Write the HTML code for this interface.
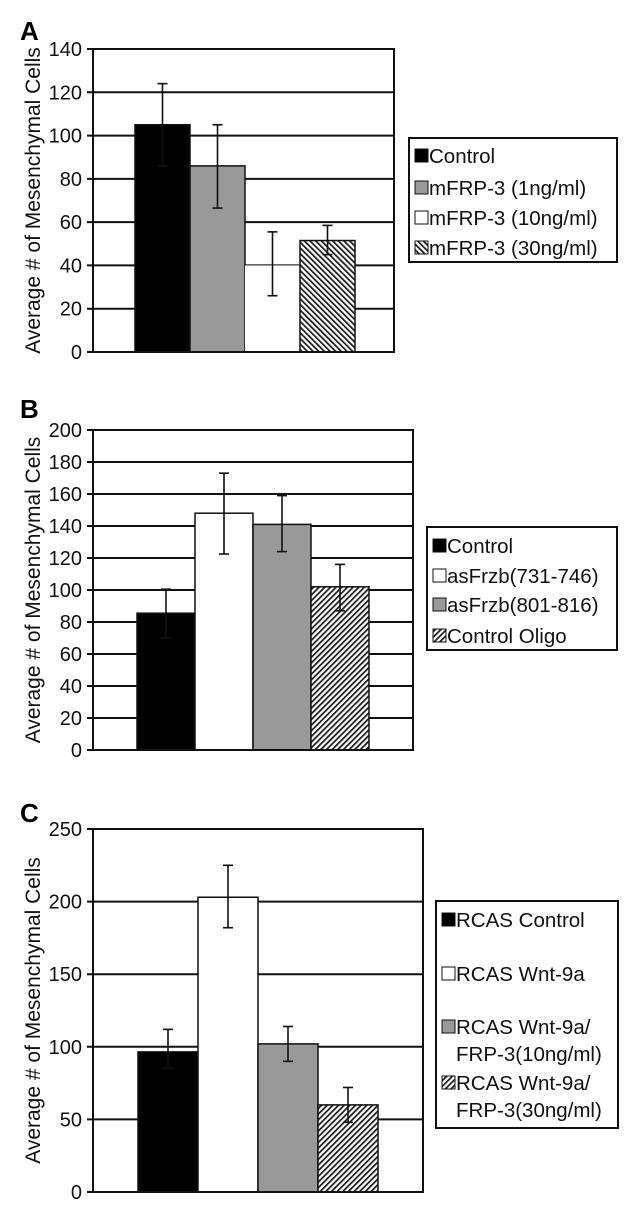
<!DOCTYPE html>
<html><head><meta charset="utf-8">
<style>
html,body{margin:0;padding:0;background:#fff;}
svg{display:block;font-family:"Liberation Sans",Arial,sans-serif;}
</style></head>
<body>
<svg id="fig" width="634" height="1212" viewBox="0 0 634 1212">
<defs>
<pattern id="hatchBack" patternUnits="userSpaceOnUse" width="4" height="4" patternTransform="rotate(-45)">
<rect width="4" height="4" fill="#fff"/><rect width="1.8" height="4" fill="#222"/></pattern>
<pattern id="hatchFwd" patternUnits="userSpaceOnUse" width="4" height="4" patternTransform="rotate(45)">
<rect width="4" height="4" fill="#fff"/><rect width="1.8" height="4" fill="#222"/></pattern>
</defs>
</svg>
<script>
// Panel A
const catsA = ["Control","mFRP-3 (1ng/ml)","mFRP-3 (10ng/ml)","mFRP-3 (30ng/ml)"];
const valsA = [105, 86, 40, 51.5];
const errHiA = [124, 105, 55.5, 58.5];
const errLoA = [86, 66.5, 26, 45];
const ticksA = [0,20,40,60,80,100,120,140];
// Panel B
const catsB = ["Control","asFrzb(731-746)","asFrzb(801-816)","Control Oligo"];
const valsB = [85.5, 148, 141, 102];
const errHiB = [100.5, 173, 159, 116];
const errLoB = [70, 122.5, 124, 87];
const ticksB = [0,20,40,60,80,100,120,140,160,180,200];
// Panel C
const catsC = ["RCAS Control","RCAS Wnt-9a","RCAS Wnt-9a/|FRP-3(10ng/ml)","RCAS Wnt-9a/|FRP-3(30ng/ml)"];
const valsC = [96.5, 203, 102, 60];
const errHiC = [112, 225, 114, 72];
const errLoC = [85, 182, 90, 48];
const ticksC = [0,50,100,150,200,250];

const svg = document.getElementById('fig');
const NS = 'http://www.w3.org/2000/svg';
function mk(tag, attrs, parent){
  const e = document.createElementNS(NS, tag);
  for (const k in attrs) e.setAttribute(k, attrs[k]);
  (parent||svg).appendChild(e);
  return e;
}

function panel(cfg){
  const g = mk('g', {});
  
  
  const max = cfg.ticks[cfg.ticks.length-1];
  const y = v => cfg.y0 - (v/max)*(cfg.y0 - cfg.y1);
  const lt = mk('text', {x:20, y:cfg.letterY, 'font-size':26, 'font-weight':'bold'}, g);
  lt.textContent = cfg.id;
  
  
  cfg.ticks.forEach(t => {
    const ln = mk('line', {x1:cfg.x0-6, x2:cfg.x1, y1:y(t), y2:y(t), stroke:'#111', 'stroke-width':2}, g);
    
    
    const tx = mk('text', {x:cfg.x0-11, y:y(t)+7, 'font-size':20, 'text-anchor':'end', fill:'#111'}, g);
    tx.textContent = t;
    
    
  });
  const n = cfg.vals.length;
  const bw = (cfg.bx1 - cfg.bx0)/n;
  cfg.vals.forEach((v,i) => {
    const bx = cfg.bx0 + i*bw;
    const fill = cfg.fills[i];
    const r = mk('rect', {x:bx, y:y(v), width:bw, height:y(0)-y(v), fill:fill,
      stroke: fill==='#fff' && cfg.noBorderWhite ? 'none' : '#111', 'stroke-width':1.5}, g);
    
    
  });
  cfg.vals.forEach((v,i) => {
    const cx = cfg.bx0 + i*bw + bw/2;
    const eg = mk('g', {stroke:'#111', 'stroke-width':1.6}, g);
    
    
    mk('line', {x1:cx, x2:cx, y1:y(cfg.hi[i]), y2:y(cfg.lo[i])}, eg);
    mk('line', {x1:cx-5, x2:cx+5, y1:y(cfg.hi[i]), y2:y(cfg.hi[i])}, eg);
    mk('line', {x1:cx-5, x2:cx+5, y1:y(cfg.lo[i]), y2:y(cfg.lo[i])}, eg);
  });
  const fr = mk('rect', {x:cfg.x0, y:cfg.y1, width:cfg.x1-cfg.x0, height:cfg.y0-cfg.y1, fill:'none', stroke:'#111', 'stroke-width':2}, g);
  
  
  const yt = mk('text', {x:0, y:0, 'font-size':21, 'text-anchor':'middle', fill:'#111',
    transform:`translate(40,${(cfg.y0+cfg.y1)/2}) rotate(-90)`}, g);
  yt.textContent = 'Average # of Mesenchymal Cells';
  
  
  const L = cfg.legend;
  const lg = mk('g', {}, g);
  
  
  mk('rect', {x:L.x, y:L.y, width:L.w, height:L.h, fill:'#fff', stroke:'#111', 'stroke-width':2}, lg);
  cfg.cats.forEach((c,i) => {
    const ly = L.rows[i];
    const eg = mk('g', {}, lg);
    
    
    mk('rect', {x:L.x+6, y:ly-7, width:13, height:13, fill:cfg.fills[i], stroke:'#111', 'stroke-width':1}, eg);
    const parts = c.split('|');
    parts.forEach((p,j) => {
      const t = mk('text', {x:L.x+20, y:ly+7+j*(L.lineGap||0), 'font-size':20.5, fill:'#111'}, eg);
      t.textContent = p;
    });
  });
}

panel({id:'A', letterY:40, x0:93, x1:394, y0:352, y1:49, bx0:135, bx1:355, ticks:ticksA,
  vals:valsA, hi:errHiA, lo:errLoA, cats:catsA, noBorderWhite:true,
  fills:['#000','#999','#fff','url(#hatchBack)'],
  legend:{x:409, y:138, w:208, h:124, rows:[156,188,218,248]}});
panel({id:'B', letterY:418, x0:93, x1:413, y0:750, y1:430, bx0:137, bx1:369, ticks:ticksB,
  vals:valsB, hi:errHiB, lo:errLoB, cats:catsB,
  fills:['#000','#fff','#999','url(#hatchFwd)'],
  legend:{x:427, y:527, w:190, h:123, rows:[546,576,605,636]}});
panel({id:'C', letterY:822, x0:93, x1:423, y0:1192, y1:829, bx0:138, bx1:378, ticks:ticksC,
  vals:valsC, hi:errHiC, lo:errLoC, cats:catsC,
  fills:['#000','#fff','#999','url(#hatchFwd)'],
  legend:{x:436, y:901, w:182, h:227, rows:[920,974,1027,1083], lineGap:27}});
</script>
</body></html>
